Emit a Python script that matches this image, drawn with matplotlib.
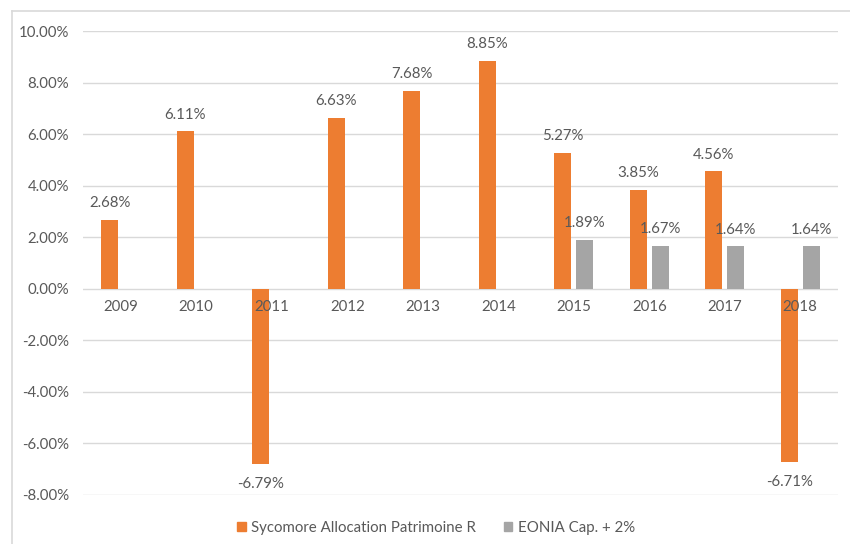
import numpy as np
import matplotlib.pyplot as plt
from matplotlib.lines import Line2D
from matplotlib.patches import Patch

# Données
years = ['2009', '2010', '2011', '2012', '2013', '2014', '2015', '2016', '2017', '2018']
fund = [2.68, 6.11, -6.79, 6.63, 7.68, 8.85, 5.27, 3.85, 4.56, -6.71]
eonia = [np.nan, np.nan, np.nan, np.nan, np.nan, np.nan, 1.89, 1.67, 1.64, 1.64]
yticks = [-8, -6, -4, -2, 0, 2, 4, 6, 8, 10]

orange = '#ED7D31'
grey = '#A5A5A5'
txt = '#595959'
grid = '#D9D9D9'
fs = 10.8

plt.rcParams['font.family'] = ['Lato', 'DejaVu Sans']

fig = plt.figure(figsize=(8.5, 5.44), dpi=100)
ax = fig.add_axes([0.0976, 0.0901, 0.8883, 0.8529])

x = np.arange(len(years))
w = 0.225
off = 0.145
ax.bar(x - off, fund, w, color=orange, zorder=2)
ax.bar(x + off, eonia, w, color=grey, zorder=2)

# Étiquettes de valeurs
for xi, v in zip(x, fund):
    dy = 12 if v >= 0 else -14.5
    ax.annotate(f'{v:.2f}%', (xi - off, v), xytext=(0, dy), textcoords='offset points',
                ha='center', va='center', fontsize=fs, color=txt)
for xi, v in zip(x, eonia):
    if not np.isnan(v):
        ax.annotate(f'{v:.2f}%', (xi + off, v), xytext=(0, 12), textcoords='offset points',
                    ha='center', va='center', fontsize=fs, color=txt)

ax.set_xlim(-0.5, len(years) - 0.5)
ax.set_ylim(-8, 10)
ax.set_yticks(yticks)
ax.set_yticklabels([f'{t:.2f}%' for t in yticks], fontsize=fs, color=txt)
ax.tick_params(axis='y', length=0, pad=10)
ax.set_xticks([])
for xi, yr in zip(x, years):
    ax.text(xi, -0.72, yr, ha='center', va='center', fontsize=fs, color=txt, zorder=3)

ax.yaxis.grid(True, color=grid, linewidth=1, zorder=0)
for s in ax.spines.values():
    s.set_visible(False)

# Légende
handles = [Patch(color=orange, label='Sycomore Allocation Patrimoine R'),
           Patch(color=grey, label='EONIA Cap. + 2%')]
fig.legend(handles=handles, loc='center', bbox_to_anchor=(0.513, 0.029), ncol=2, frameon=False,
           fontsize=fs, labelcolor=txt, handlelength=0.55, handleheight=0.55,
           handletextpad=0.35, columnspacing=1.9)

# Cadre du graphique
fig.add_artist(Line2D([12 / 850, 12 / 850], [0, 1 - 11 / 544], transform=fig.transFigure, color=grid, lw=1.2))
fig.add_artist(Line2D([12 / 850, 1], [1 - 11 / 544, 1 - 11 / 544], transform=fig.transFigure, color=grid, lw=1.2))

fig.savefig('out.png', dpi=100)
